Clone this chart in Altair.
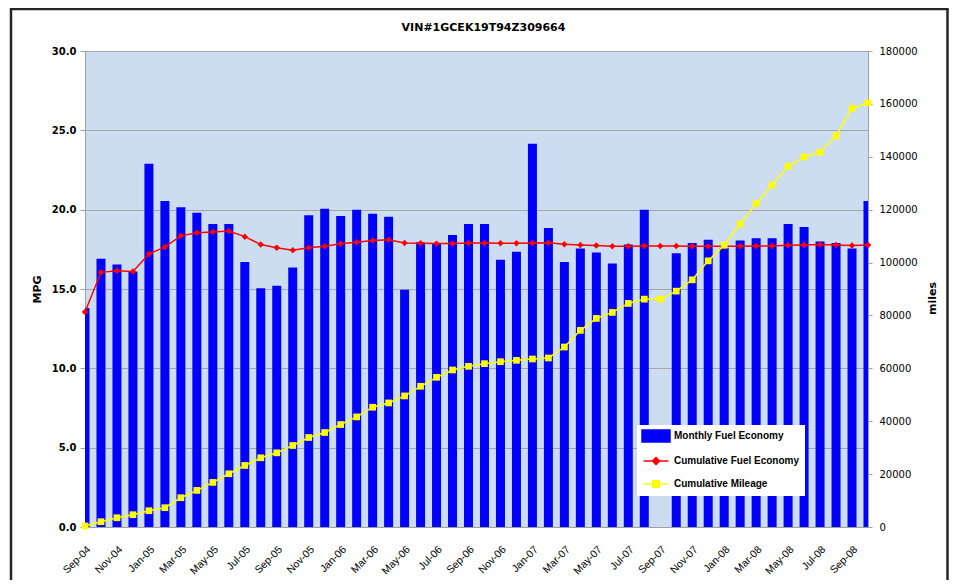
import altair as alt
import pandas as pd

months = ["Sep-04", "Oct-04", "Nov-04", "Dec-04",
          "Jan-05", "Feb-05", "Mar-05", "Apr-05", "May-05", "Jun-05",
          "Jul-05", "Aug-05", "Sep-05", "Oct-05", "Nov-05", "Dec-05",
          "Jan-06", "Feb-06", "Mar-06", "Apr-06", "May-06", "Jun-06",
          "Jul-06", "Aug-06", "Sep-06", "Oct-06", "Nov-06", "Dec-06",
          "Jan-07", "Feb-07", "Mar-07", "Apr-07", "May-07", "Jun-07",
          "Jul-07", "Aug-07", "Sep-07", "Oct-07", "Nov-07", "Dec-07",
          "Jan-08", "Feb-08", "Mar-08", "Apr-08", "May-08", "Jun-08",
          "Jul-08", "Aug-08", "Sep-08", "Oct-08"]

monthly_mpg = [13.8, 16.9, 16.55, 16.1,
               22.9, 20.55, 20.15, 19.8, 19.1, 19.1,
               16.7, 15.05, 15.2, 16.35, 19.65, 20.05,
               19.6, 20.0, 19.75, 19.55, 14.95, 17.95,
               17.9, 18.4, 19.1, 19.1, 16.85, 17.35,
               24.15, 18.85, 16.7, 17.55, 17.3, 16.6,
               17.8, 20.0, None, 17.25, 17.9, 18.1,
               17.6, 18.05, 18.2, 18.2, 19.1, 18.9,
               18.0, 17.9, 17.55, 20.55]

cumulative_mpg = [13.55, 16.05, 16.15, 16.1,
                  17.2, 17.65, 18.35, 18.55, 18.6, 18.65,
                  18.3, 17.8, 17.6, 17.45, 17.6, 17.7,
                  17.85, 17.95, 18.05, 18.1, 17.9, 17.88,
                  17.86, 17.86, 17.9, 17.9, 17.88, 17.88,
                  17.9, 17.92, 17.82, 17.78, 17.74, 17.7,
                  17.7, 17.71, 17.71, 17.71, 17.69, 17.69,
                  17.69, 17.69, 17.71, 17.71, 17.76, 17.78,
                  17.8, 17.78, 17.74, 17.78]

cumulative_miles = [400, 2000, 3500, 4650,
                    6150, 7300, 11070, 13840, 16860, 20130,
                    23270, 26170, 28050, 30820, 33840, 35730,
                    38750, 41640, 45290, 46920, 49560, 53210,
                    56610, 59380, 60760, 61770, 62520, 63030,
                    63530, 63910, 68060, 74350, 78880, 81140,
                    84540, 86170, 86170, 89190, 93470, 100640,
                    106550, 114600, 122280, 129320, 136400, 139950,
                    141700, 147900, 158300, 160400]

series_names = ["Monthly Fuel Economy", "Cumulative Fuel Economy", "Cumulative Mileage"]
series_colors = ["#0000FF", "#FF0000", "#FFFF00"]
series_symbols = [
    "M-2.8,-1.2H2.8V1.2H-2.8Z",
    "M-2.5,0H2.5M0,-0.7L0.7,0L0,0.7L-0.7,0Z",
    "M-2.5,0H2.5M-0.65,-0.65H0.65V0.65H-0.65Z",
]
mpg_ticks = [0, 5, 10, 15, 20, 25, 30]
miles_ticks = [0, 20000, 40000, 60000, 80000, 100000, 120000, 140000, 160000, 180000]
x_tick_labels = months[::2]
chart_title = "VIN#1GCEK19T94Z309664"

df = pd.DataFrame({
    "month": months,
    "mpg": monthly_mpg,
    "cum_mpg": cumulative_mpg,
    "miles": cumulative_miles,
})
legend_df = pd.DataFrame({"series": series_names})

FONT = "DejaVu Sans"
GRAY = "#A0A0A0"

x_enc = alt.X(
    "month:N", sort=months,
    scale=alt.Scale(type="point", padding=0),
    axis=alt.Axis(values=x_tick_labels, labelAngle=-45, title=None, ticks=False,
                  domainColor=GRAY, labelFont="Liberation Sans", labelFontSize=10.5,
                  labelColor="black", labelPadding=17, grid=False, labelOverlap=False),
)

left_axis = alt.Axis(
    values=mpg_ticks, format=".1f", grid=True, gridColor="#A6A6A6", gridWidth=1,
    domainColor=GRAY, tickColor=GRAY, tickSize=5,
    labelFont=FONT, labelFontSize=10, labelFontWeight="bold", labelColor="black",
    labelPadding=4, titleFont=FONT, titleFontSize=11, titleFontWeight="bold",
    titleColor="black", titleX=-48, titleY=238, titleAngle=270,
    titleAlign="center", titleBaseline="middle",
)

right_axis = alt.Axis(
    orient="right", values=miles_ticks, format="d", grid=False,
    domainColor=GRAY, tickColor=GRAY, tickSize=4,
    labelFont=FONT, labelFontSize=10, labelColor="black", labelPadding=7,
    titleFont=FONT, titleFontSize=11, titleFontWeight="bold", titleColor="black",
    titleX=64, titleY=247, titleAngle=270, titleAlign="center", titleBaseline="middle",
)


def y_left(field):
    return alt.Y(f"{field}:Q", title="MPG",
                 scale=alt.Scale(domain=[0, 30], nice=False, zero=True),
                 axis=left_axis)


def y_right(field):
    return alt.Y(f"{field}:Q", title="miles",
                 scale=alt.Scale(domain=[0, 180000], nice=False, zero=True),
                 axis=right_axis)


base = alt.Chart(df)

bars = base.mark_bar(color="#0000FF", size=9, clip=True).encode(x=x_enc, y=y_left("mpg"))
red_line = base.mark_line(color="#FF0000", strokeWidth=1.5).encode(x=x_enc, y=y_left("cum_mpg"))
red_pts = base.mark_point(shape="diamond", filled=True, size=42, color="#FF0000",
                          opacity=1).encode(x=x_enc, y=y_left("cum_mpg"))

legend_spec = alt.Legend(
    title=None, orient="none", legendX=552, legendY=374, fillColor="white",
    padding=5, symbolSize=100, symbolStrokeWidth=1.5, symbolOffset=8, labelOffset=12,
    labelFont="Liberation Sans", labelFontSize=10, labelFontWeight="bold",
    labelColor="black", rowPadding=9,
)
legend_layer = alt.Chart(legend_df).mark_point(filled=True, opacity=1, clip=True).encode(
    x=alt.value(-300), y=alt.value(-300),
    fill=alt.Fill("series:N", scale=alt.Scale(domain=series_names, range=series_colors),
                  legend=legend_spec),
    stroke=alt.Stroke("series:N", scale=alt.Scale(domain=series_names, range=series_colors),
                      legend=legend_spec),
    shape=alt.Shape("series:N", scale=alt.Scale(domain=series_names, range=series_symbols),
                    legend=legend_spec),
)

frame = alt.Chart(pd.DataFrame({"f": [0]})).mark_rect(
    fillOpacity=0, stroke="#262626", strokeWidth=2.5
).encode(x=alt.value(-74), x2=alt.value(862.5), y=alt.value(-42), y2=alt.value(570))

left = alt.layer(frame, bars, red_line, red_pts, legend_layer)

y_line = base.mark_line(color="#FFFF00", strokeWidth=1.5).encode(x=x_enc, y=y_right("miles"))
y_pts = base.mark_point(shape="square", filled=True, size=45, color="#FFFF00",
                        opacity=1).encode(x=x_enc, y=y_right("miles"))
right = alt.layer(y_line, y_pts)

chart = alt.layer(left, right).resolve_scale(y="independent").properties(
    width=783, height=476,
    title=alt.TitleParams(chart_title, font=FONT, fontSize=11, fontWeight="bold",
                          color="black", anchor="middle", dx=7, offset=-25),
    padding={"left": 77, "top": 43, "right": 82, "bottom": 53},
    autosize=alt.AutoSizeParams(type="none"),
    background="white",
).configure_view(fill="#CCDDF2", stroke=None)

chart.save("out.html", embed_options={"renderer": "svg", "actions": False})
